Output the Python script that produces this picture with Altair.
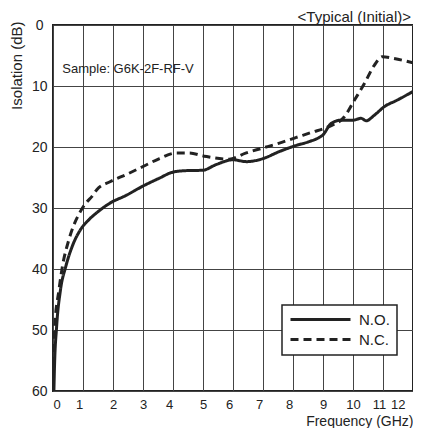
import altair as alt
import pandas as pd

# N.O. (solid) curve: frequency (GHz), isolation (dB)
no_freq = [0.03, 0.05, 0.12, 0.25, 0.42, 0.64, 0.91, 1.2, 1.45, 1.9, 2.45, 3.0, 3.55, 3.94,
           4.33, 5.0, 5.43, 6.0, 6.45, 7.0, 7.52, 8.07, 8.55, 8.85, 9.0, 9.28, 9.61, 10.0,
           10.27, 10.44, 10.71, 11.04, 11.48, 12.0]
no_iso = [60, 56, 49.5, 43.4, 39.7, 36.3, 33.6, 31.9, 30.8, 29.2, 27.9, 26.4, 25.1, 24.2,
          23.9, 23.8, 22.9, 22.1, 22.4, 21.9, 20.8, 19.8, 19.1, 18.5, 18.0, 16.1, 15.6, 15.6,
          15.3, 15.7, 14.8, 13.4, 12.3, 10.9]

# N.C. (dashed) curve
nc_freq = [0.0, 0.02, 0.05, 0.2, 0.31, 0.53, 0.91, 1.13, 1.3, 1.46, 1.9, 2.45, 3.0, 3.55,
           4.1, 4.54, 5.04, 5.87, 6.42, 6.97, 7.52, 8.07, 8.62, 9.17, 9.72, 10.05, 10.38,
           10.71, 10.98, 11.37, 12.0]
nc_iso = [60, 55, 50, 43.4, 39.7, 35.2, 30.6, 29.0, 28.1, 27.0, 25.7, 24.5, 23.2, 21.9,
          21.0, 21.0, 21.5, 22.0, 21.0, 20.2, 19.4, 18.5, 17.6, 16.7, 15.0, 12.3, 9.6,
          6.6, 5.2, 5.5, 6.2]

series_names = ["N.O.", "N.C."]
x_ticks = [0, 1, 2, 3, 4, 5, 6, 7, 8, 9, 10, 11, 12]
y_ticks = [0, 10, 20, 30, 40, 50, 60]

# annotation text and its anchor (in data units)
sample_text = ["Sample: G6K-2F-RF-V"]
sample_freq = [0.31]
sample_iso = [7.9]

df = pd.concat([
    pd.DataFrame({"freq": no_freq, "iso": no_iso, "series": series_names[0]}),
    pd.DataFrame({"freq": nc_freq, "iso": nc_iso, "series": series_names[1]}),
])
sample_df = pd.DataFrame({"freq": sample_freq, "iso": sample_iso, "t": sample_text})

FONT = "Liberation Sans"
INK = "#222222"

x_axis = alt.Axis(
    values=x_ticks, tickCount=13, grid=True, domain=False, ticks=False, tickSize=0,
    labelOverlap=False, labelBound=False,
    labelPadding=7, labelFontSize=13, labelFont=FONT, labelColor=INK,
    labelOffset={"condition": [
        {"test": "datum.value == 12", "value": -8},
        {"test": "indexof([1,4,6,7,8,11], datum.value) >= 0", "value": -4},
    ], "value": 0},
    title="Frequency (GHz)", titleAnchor="end", titleFontSize=14, titleFont=FONT,
    titleFontWeight="normal", titleColor=INK, titleBaseline="alphabetic", titleY=34,
)
y_axis = alt.Axis(
    values=y_ticks, grid=True, domain=False, ticks=False, tickSize=0,
    labelOverlap=False,
    labelPadding={"condition": {"test": "datum.value == 0", "value": 10}, "value": 6},
    labelFontSize=14, labelFont=FONT, labelColor=INK,
    title="Isolation (dB)", titleAnchor="start", titleAlign="right", titleY=-4,
    titleFontSize=15, titleFont=FONT,
    titleFontWeight="normal", titleColor=INK, titlePadding=7,
)

x_enc = alt.X("freq:Q", scale=alt.Scale(domain=[0, 12], nice=False, zero=False), axis=x_axis)
y_enc = alt.Y("iso:Q", scale=alt.Scale(domain=[0, 60], reverse=True, nice=False), axis=y_axis)

lines = alt.Chart(df).mark_line(strokeWidth=3, color=INK, clip=True, interpolate="monotone").encode(
    x=x_enc,
    y=y_enc,
    strokeDash=alt.StrokeDash(
        "series:N",
        scale=alt.Scale(domain=series_names, range=[[1, 0], [8, 5]]),
        legend=alt.Legend(
            title=None, orient="none", legendX=229, legendY=280,
            strokeColor=INK, padding=7, fillColor="white",
            symbolType="M-1,0H9", symbolSize=144, symbolStrokeWidth=3,
            symbolStrokeColor=INK, labelFontSize=15, labelFont=FONT, labelColor=INK,
            labelOffset=55, rowPadding=4,
        ),
    ),
    detail="series:N",
)

sample = alt.Chart(sample_df).mark_text(
    align="left", baseline="alphabetic", fontSize=13, font=FONT, color=INK
).encode(x=x_enc, y=y_enc, text="t:N")

chart = alt.layer(lines, sample).properties(
    width=360, height=366,
    title=alt.TitleParams("<Typical (Initial)>", anchor="end", frame="group", fontSize=15,
                          font=FONT, fontWeight="normal", color=INK, baseline="alphabetic",
                          offset=0, dy=19, dx=-2),
    autosize=alt.AutoSizeParams(type="none"),
    padding={"left": 45, "top": 17, "right": 0, "bottom": 37},
).configure_view(stroke=INK, strokeWidth=2).configure_axis(
    gridColor="#444444", gridWidth=1, gridOpacity=1
).configure_legend(strokeWidth=1.5)

chart.save("out.html", embed_options={"renderer": "svg", "actions": False})
